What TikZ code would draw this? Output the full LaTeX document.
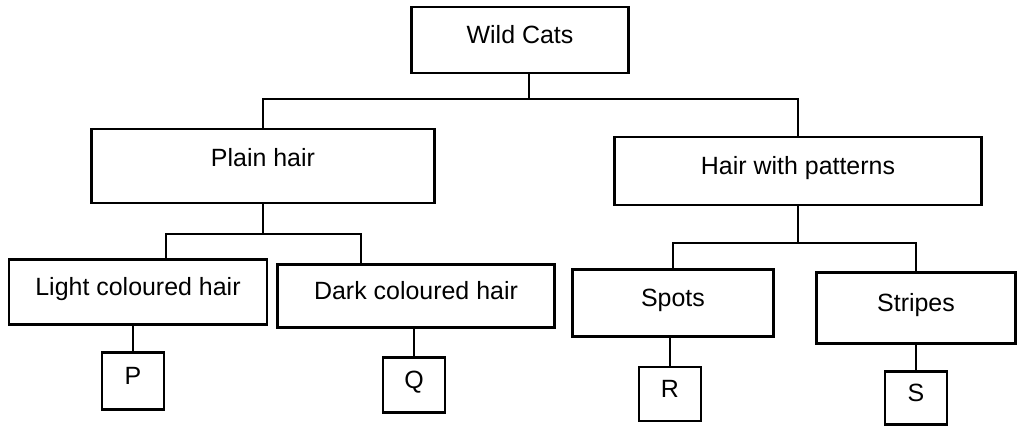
\documentclass[tikz,border=0pt]{standalone}
\usepackage{fontspec}
\setmainfont{Liberation Sans}
\usetikzlibrary{positioning}

\begin{document}
\begin{tikzpicture}[
    x=0.02cm, y=-0.02cm,
    font=\fontsize{14.2}{17}\selectfont,
    catNode/.style={
        rectangle, draw=black, line width=1.2pt,
        fill=white,
        text height=0.75em, text depth=0.4em,
        inner sep=2pt, align=center
    },
    leafNode/.style={
        catNode,
        minimum width=1.24cm
    },
    link/.style={draw=black, line width=1.2pt}
]

% Layout plan: pixel grid of the page, root on top, two groups, four leaves.
\useasboundingbox (0,0) rectangle (1018,427);

\node[catNode, minimum width=4.34cm, minimum height=1.32cm] (WildCats) at (520,40) {Wild Cats};

\node[catNode, minimum width=6.86cm, minimum height=1.48cm, text depth=0.7em] (PlainHair) at (263,166) {Plain hair};
\node[catNode, minimum width=7.34cm, minimum height=1.36cm] (Patterns) at (798,171) {Hair with patterns};

\node[catNode, minimum width=5.16cm, minimum height=1.30cm] (Light) at (138,292) {Light coloured hair};
\node[catNode, minimum width=5.54cm, minimum height=1.26cm] (Dark) at (416,296) {Dark coloured hair};
\node[catNode, minimum width=4.02cm, minimum height=1.34cm] (Spots) at (673,303) {Spots};
\node[catNode, minimum width=3.98cm, minimum height=1.42cm] (Stripes) at (916,308) {Stripes};

\node[leafNode, minimum height=1.14cm] (P) at (133,381) {P};
\node[leafNode, minimum height=1.10cm] (Q) at (414,385) {Q};
\node[leafNode, minimum height=1.08cm] (R) at (670,394) {R};
\node[leafNode, minimum height=1.06cm] (S) at (916,398) {S};

\draw[link] ([xshift=0.18cm]WildCats.south) -- ++(0,25) -| (PlainHair.north);
\draw[link] ([xshift=0.18cm]WildCats.south) -- ++(0,25) -| (Patterns.north);

\draw[link] (PlainHair.south) -- ++(0,30) -| ([xshift=0.56cm]Light.north);
\draw[link] (PlainHair.south) -- ++(0,30) -| ([xshift=-1.1cm]Dark.north);

\draw[link] (Patterns.south) -- ++(0,37) -| (Spots.north);
\draw[link] (Patterns.south) -- ++(0,37) -| (Stripes.north);

\draw[link] (P.north |- Light.south) -- (P.north);
\draw[link] (Q.north |- Dark.south) -- (Q.north);
\draw[link] (R.north |- Spots.south) -- (R.north);
\draw[link] (S.north |- Stripes.south) -- (S.north);

\end{tikzpicture}
\end{document}
